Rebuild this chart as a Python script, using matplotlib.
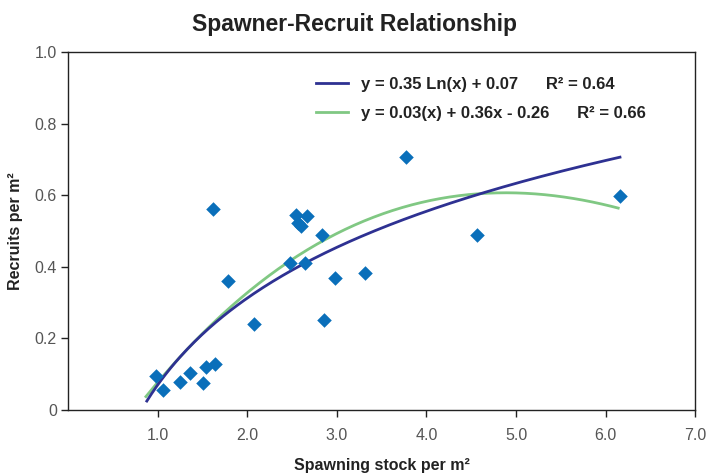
import numpy as np
import matplotlib.pyplot as plt

# scatter data
stock = [0.98, 1.06, 1.25, 1.36, 1.51, 1.54, 1.64, 1.62, 1.79, 2.08,
         2.48, 2.55, 2.57, 2.60, 2.67, 2.65, 2.83, 2.86, 2.98, 3.32,
         3.77, 4.57, 6.16]
recruits = [0.095, 0.056, 0.079, 0.103, 0.076, 0.119, 0.130, 0.563, 0.361, 0.240,
            0.410, 0.545, 0.523, 0.515, 0.543, 0.410, 0.489, 0.251, 0.370, 0.382,
            0.708, 0.489, 0.598]

# log trendline as given in the legend
log_a, log_b = 0.35, 0.07
log_range = (0.88, 6.16)

# polynomial trendline
poly_x = [0.87, 1.5, 2.0, 2.5, 3.0, 3.5, 4.0, 4.5, 5.0, 5.5, 6.0, 6.14]
poly_y = [0.03, 0.226, 0.33, 0.42, 0.49, 0.54, 0.577, 0.605, 0.615, 0.60, 0.573, 0.559]

xticks = [1, 2, 3, 4, 5, 6, 7]
xticklabels = ['1.0', '2.0', '3.0', '4.0', '5.0', '6.0', '7.0']
yticks = [0, 0.2, 0.4, 0.6, 0.8, 1.0]
yticklabels = ['0', '0.2', '0.4', '0.6', '0.8', '1.0']

label_log = 'y = 0.35 Ln(x) + 0.07      R² = 0.64'
label_poly = 'y = 0.03(x) + 0.36x - 0.26      R² = 0.66'

plt.rcParams['font.family'] = ['Liberation Sans', 'DejaVu Sans']

fig = plt.figure(figsize=(7.08, 4.73), dpi=100)
ax = fig.add_axes([0.096, 0.133, 0.886, 0.757])

xs = np.linspace(log_range[0], log_range[1], 200)
ax.plot(xs, log_a * np.log(xs) + log_b, color='#2e3192', lw=2.0, label=label_log, zorder=3)

coef = np.polyfit(poly_x, poly_y, 3)
xp = np.linspace(poly_x[0], poly_x[-1], 200)
ax.plot(xp, np.polyval(coef, xp), color='#80c883', lw=2.0, label=label_poly, zorder=2)

ax.scatter(stock, recruits, marker='D', s=55, color='#0a6fba', zorder=4, linewidths=0)

ax.set_xlim(0, 7)
ax.set_ylim(0, 1.0)
ax.set_xticks(xticks)
ax.set_xticklabels(xticklabels)
ax.set_yticks(yticks)
ax.set_yticklabels(yticklabels)
ax.tick_params(direction='out', length=5, width=1, colors='#222222',
               labelcolor='#555555', labelsize=11.5)
ax.tick_params(axis='x', pad=8)
ax.tick_params(axis='y', pad=3)
for s in ax.spines.values():
    s.set_linewidth(1.0)
    s.set_color('#222222')

ax.set_xlabel('Spawning stock per m²', fontsize=11.5, fontweight='bold',
              color='#222222', labelpad=11)
ax.set_ylabel('Recruits per m²', fontsize=11.5, fontweight='bold',
              color='#222222', labelpad=8)
fig.suptitle('Spawner-Recruit Relationship', fontsize=16.5, fontweight='bold',
             color='#222222', y=0.972)

leg = ax.legend(loc='upper left', bbox_to_anchor=(0.372, 0.973), frameon=False,
                handlelength=1.9, handletextpad=0.8, fontsize=12, labelspacing=0.86)
for t in leg.get_texts():
    t.set_fontweight('bold')
    t.set_color('#222222')

fig.savefig('out.png', dpi=100)
